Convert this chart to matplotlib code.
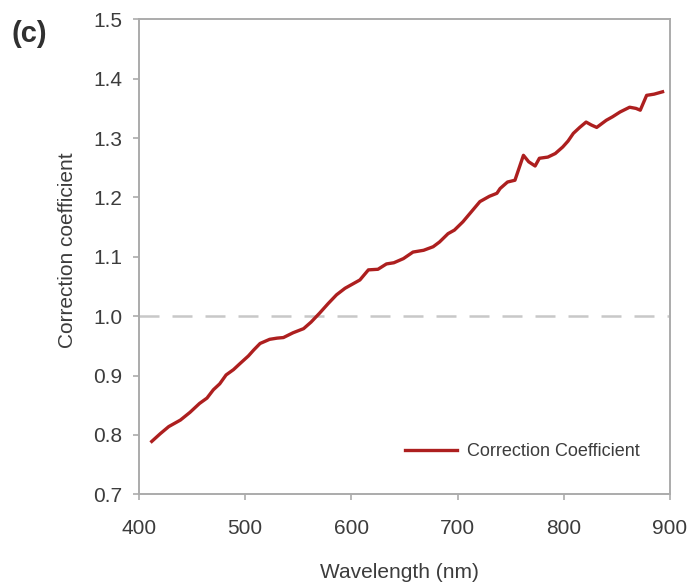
import matplotlib
matplotlib.use('Agg')
import matplotlib.pyplot as plt

plt.rcParams['font.family'] = ['Liberation Sans', 'DejaVu Sans']

# wavelength (nm) and correction coefficient
wavelength = [412, 420, 428, 439, 448, 457, 464, 470, 476, 482, 489, 495,
              503, 508, 514, 523, 530, 536, 545, 555, 562, 570, 578, 586,
              594, 602, 608, 616, 625, 633, 640, 649, 658, 668, 677, 683,
              691, 697, 705, 713, 721, 730, 737, 740, 747, 754, 758, 762,
              767, 773, 777, 785, 792, 799, 804, 809, 815, 821, 826, 831,
              840, 846, 853, 862, 868, 872, 878, 885, 893]
coefficient = [0.789, 0.802, 0.814, 0.825, 0.838, 0.853, 0.862, 0.876, 0.886,
               0.901, 0.910, 0.920, 0.933, 0.943, 0.954, 0.961, 0.963, 0.964,
               0.972, 0.979, 0.990, 1.005, 1.021, 1.036, 1.047, 1.055, 1.061,
               1.078, 1.079, 1.088, 1.090, 1.097, 1.108, 1.111, 1.117, 1.125,
               1.139, 1.145, 1.159, 1.176, 1.193, 1.202, 1.207, 1.215, 1.226,
               1.229, 1.250, 1.271, 1.260, 1.253, 1.266, 1.268, 1.274, 1.285,
               1.295, 1.308, 1.318, 1.327, 1.322, 1.318, 1.330, 1.336, 1.344,
               1.352, 1.350, 1.347, 1.372, 1.374, 1.378]

xticks = [400, 500, 600, 700, 800, 900]
yticks = [0.7, 0.8, 0.9, 1.0, 1.1, 1.2, 1.3, 1.4, 1.5]

fig = plt.figure(figsize=(6.94, 5.87), dpi=100)
ax = fig.add_axes([0.2003, 0.158, 0.7651, 0.809])

ax.axhline(1.0, color='#c8c8c8', lw=1.8, dashes=(8, 5.2), zorder=1)
ax.plot(wavelength, coefficient, color='#ad1f1f', lw=2.4,
        label='Correction Coefficient', zorder=3)

ax.set_xlim(400, 900)
ax.set_ylim(0.7, 1.5)
ax.set_xticks(xticks)
ax.set_yticks(yticks)
ax.set_yticklabels(['%.1f' % v for v in yticks])

for s in ax.spines.values():
    s.set_color('#ababab')
    s.set_linewidth(1.4)
ax.tick_params(axis='both', direction='out', color='#ababab', length=4,
               width=1.2, labelsize=15, labelcolor='#3c3c3c')
ax.tick_params(axis='x', pad=14)
ax.tick_params(axis='y', pad=8)

ax.set_xlabel('Wavelength (nm)', fontsize=15, color='#3c3c3c')
ax.set_ylabel('Correction coefficient', fontsize=15, color='#3c3c3c')
ax.xaxis.set_label_coords(0.49, -0.145)
ax.yaxis.set_label_coords(-0.117, 0.514)

leg = ax.legend(loc='center right', bbox_to_anchor=(0.9435, 0.089),
                frameon=False, fontsize=13, borderpad=0, borderaxespad=0,
                handlelength=2.88, handletextpad=0.55)
for t in leg.get_texts():
    t.set_color('#3c3c3c')

fig.text(0.017, 0.966, '(c)', fontsize=21, fontweight='bold', color='#303030',
         va='top', ha='left')

fig.savefig('out.png', dpi=100)
